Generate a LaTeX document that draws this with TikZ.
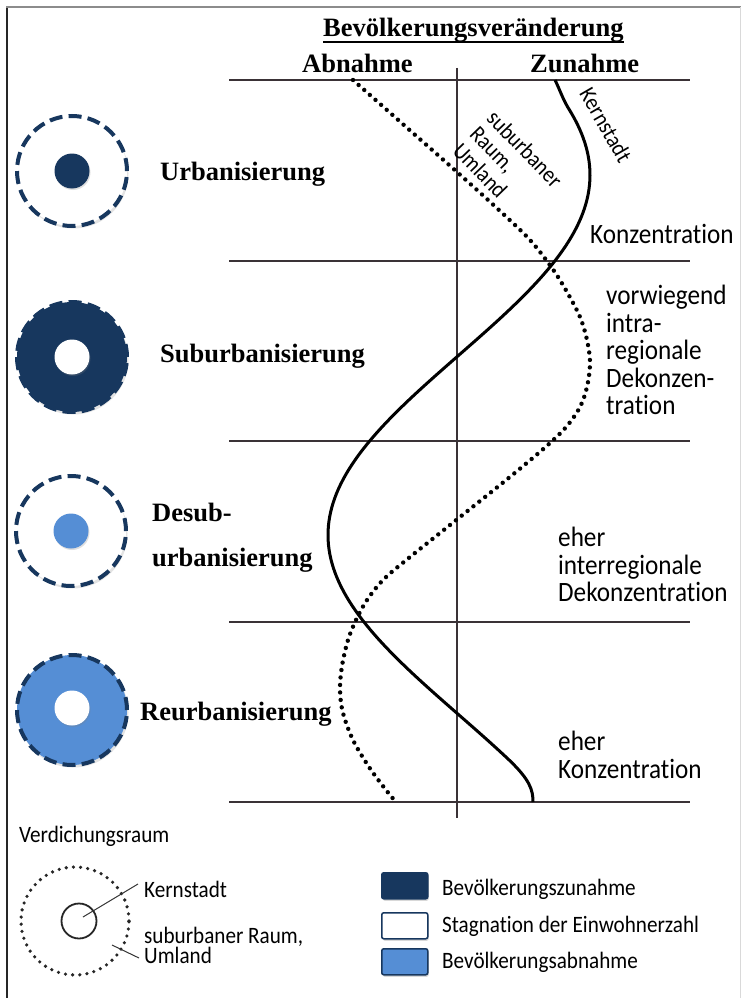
\documentclass[tikz,border=0pt]{standalone}
\usepackage{fontspec}
\setmainfont{Liberation Serif}
\newfontfamily\cond[FakeStretch=0.9,Ligatures=NoCommon]{Carlito}
\usetikzlibrary{shadows}
\definecolor{navy}{HTML}{17375E}
\definecolor{lblue}{HTML}{558ED5}
\definecolor{gridc}{HTML}{3A3236}
\begin{document}
\begin{tikzpicture}[x=1pt,y=-1pt,
  lbl/.style={inner sep=0pt, font=\fontsize{26.5}{30}\selectfont\bfseries},
  side/.style={inner sep=0pt, align=left, font=\cond\fontsize{28}{27.5}\selectfont},
  leg/.style={inner sep=0pt, align=left, font=\cond\fontsize{23.5}{19.5}\selectfont},
  rot/.style={inner sep=0pt, align=left, font=\cond\fontsize{23}{23.5}\selectfont},
  gridline/.style={draw=gridc, line width=2pt},
  ring/.style={circle, minimum size=110pt, inner sep=0pt, draw=navy, line width=4pt,
    dash pattern=on 13pt off 6.2pt,
    drop shadow={opacity=0.22, shadow xshift=1.5pt, shadow yshift=-2.5pt}},
  core/.style={circle, minimum size=35pt, inner sep=0pt,
    drop shadow={opacity=0.25, shadow xshift=1pt, shadow yshift=-1.5pt}},
  kern/.style={draw=black, line width=3pt},
  umland/.style={draw=black, line width=4.4pt, line cap=round, dash pattern=on 0pt off 7.5pt},
  legbox/.style={draw=navy, line width=1.5pt, rounded corners=2pt, minimum width=46pt,
    minimum height=26pt, inner sep=0pt,
    drop shadow={opacity=0.3, shadow xshift=1pt, shadow yshift=-2pt}},
  leader/.style={draw=black!80, line width=1pt}
]
\useasboundingbox (0,0) rectangle (742,998);
\fill[white] (0,0) rectangle (742,998);
% frame
\draw[line width=2pt, black!85] (7,7) -- (7,998);
\draw[line width=1.2pt, black!45] (6,7) -- (741,7);
\draw[line width=1pt, black!15] (740,7) -- (740,998);

% grid
\foreach \yy in {80,261,441,622,802} {
  \draw[gridline] (229,\yy) -- (690,\yy);
}
\coordinate (axtop) at (457,68);
\coordinate (axbot) at (457,818);
\draw[gridline] (axtop) -- (axbot);

% title
\node[lbl, anchor=base west] (title) at (323,37) {Bevölkerungsveränderung};
\draw[line width=1.8pt] ([yshift=-5pt]title.base west) -- ([yshift=-5pt]title.base east);
\node[lbl, anchor=base west] (abn) at (302,73) {Abnahme};
\node[lbl, anchor=base west] (zun) at (530,72) {Zunahme};

% curves
\coordinate (kstart) at (555,80);
\coordinate (kend) at (533,802);
\draw[kern] (kstart) .. controls (560,90) and (563,100) .. (569.5,110)
  -- plot[domain=110:760, samples=140, variable=\t] ({459-131*sin(0.5*(\t-355))}, \t)
  .. controls (530,780) and (533,790) .. (kend);
\draw[umland] plot[smooth, tension=0.55] coordinates {
(353,80) (405,126) (457,172) (500,211) (530,240) (552,268) (567,292) (580,317)
(587,340) (590,363) (587,387) (580,407) (567,426) (550,443) (528,462) (500,485)
(470,509) (440,533) (410,557) (384,579) (367,600) (356,620) (348,640) (342,666)
(340,690) (343,713) (353,740) (369,767) (386,790) (396,802)};

% rotated labels
\node[rot, rotate=-60] (rk) at (606,125) {Kernstadt};
\node[rot, rotate=-46, anchor=north west] (rs) at (497,108) {suburbaner\\Raum,\\Umland};

% right labels
\node[side, anchor=base west] (konz1) at (590,243) {Konzentration};
\node[side, anchor=north west] (intra) at (606,285) {vorwiegend\\intra-\\regionale\\Dekonzen-\\tration};
\node[side, anchor=north west] (inter) at (558,527) {eher\\interregionale\\Dekonzentration};
\node[side, anchor=north west] (konz2) at (558,731) {eher\\Konzentration};

% circles
\node[ring, fill=white] (c1) at (72,171) {};
\node[core, fill=navy] (k1) at (c1) {};
\node[lbl, anchor=base west] (l1) at (160,180) {Urbanisierung};

\node[ring, fill=navy] (c2) at (72,357) {};
\node[core, fill=white] (k2) at (c2) {};
\node[lbl, anchor=base west] (l2) at (160,362) {Suburbanisierung};

\node[ring, fill=white] (c3) at (71,531) {};
\node[core, fill=lblue] (k3) at (c3) {};
\node[lbl, anchor=base west] (l3a) at (152,521) {Desub-};
\node[lbl, anchor=base west] (l3b) at (152,566) {urbanisierung};

\node[ring, fill=lblue] (c4) at (72,710) {};
\node[core, fill=white] (k4) at (72,708) {};
\node[lbl, anchor=base west] (l4) at (140,720) {Reurbanisierung};

% legend
\node[leg, anchor=base west] (vr) at (19,842) {Verdichungsraum};
\node[circle, minimum size=108pt, inner sep=0pt, draw=black!85, line width=3.6pt, line cap=round,
  dash pattern=on 0pt off 7.2pt] (dc) at (75,921) {};
\node[circle, minimum size=35pt, inner sep=0pt, draw=black!85, line width=1.8pt] (sc) at (79,921) {};
\node[leg, anchor=base west] (lk) at (144,897) {Kernstadt};
\node[leg, anchor=base west] (ls) at (144,963) {suburbaner Raum,\\Umland};
\coordinate (kl1) at (83,917);
\coordinate (kl2) at (138,884);
\draw[leader] (kl1) -- (kl2);
\coordinate (sl1) at (112,945);
\coordinate (sl2) at (139,958);
\draw[leader] (sl1) -- (sl2);

\node[legbox, fill=navy, anchor=north west] (b1) at (381,872) {};
\node[legbox, fill=white, anchor=north west] (b2) at (381,912) {};
\node[legbox, fill=lblue, anchor=north west] (b3) at (381,948) {};
\node[leg, anchor=base west] (t1) at (442,895) {Bevölkerungszunahme};
\node[leg, anchor=base west] (t2) at (442,932) {Stagnation der Einwohnerzahl};
\node[leg, anchor=base west] (t3) at (442,968) {Bevölkerungsabnahme};
\end{tikzpicture}
\end{document}
